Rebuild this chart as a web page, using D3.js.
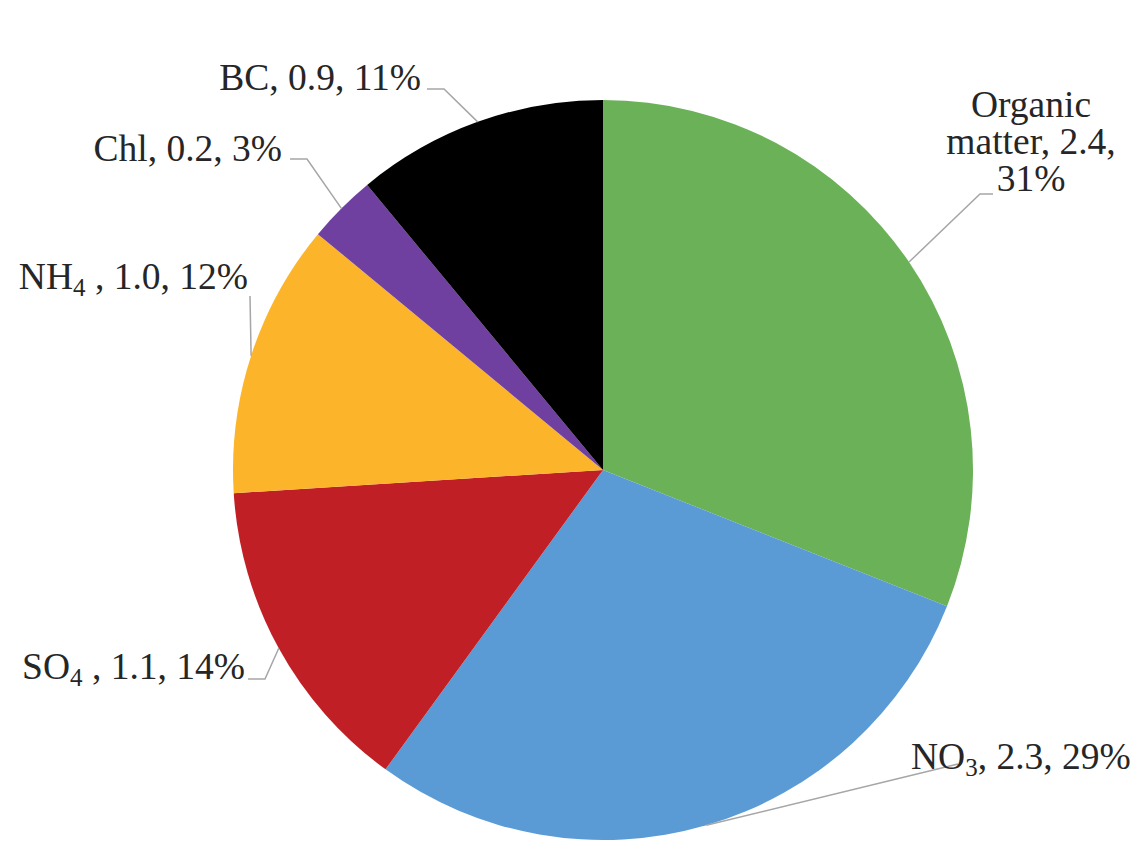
<!DOCTYPE html>
<html>
<head>
<meta charset="utf-8">
<script src="https://cdn.jsdelivr.net/npm/d3@7"></script>
<style>
  html, body { margin: 0; padding: 0; background: #ffffff; }
  svg { display: block; }
  .lbl { font-family: "Liberation Serif", "Times New Roman", serif; font-size: 37.5px; fill: #262626; }
</style>
</head>
<body>
<svg id="chart" width="1145" height="850"></svg>
<script>
// PM composition: species, mass (µg/m³) and share of total
const species  = ["Organic matter", "NO3", "SO4", "NH4", "Chl", "BC"];
const massVals = [2.4, 2.3, 1.1, 1.0, 0.2, 0.9];
const shares   = [31, 29, 14, 12, 3, 11];
const colors   = ["#6ab157", "#5b9bd5", "#c11f26", "#fcb52b", "#7040a0", "#000000"];

const svg = d3.select("#chart");
const cx = 603, cy = 470, R = 370;

const g = svg.append("g").attr("transform", `translate(${cx},${cy})`);

const pie = d3.pie().sort(null).value(d => d.share);
const arc = d3.arc().innerRadius(0).outerRadius(R);

const rows = species.map((s, i) => ({ name: s, mass: massVals[i], share: shares[i], color: colors[i] }));
const arcs = pie(rows);

g.selectAll("path.slice")
  .data(arcs)
  .join("path")
  .attr("class", "slice")
  .attr("d", arc)
  .attr("fill", d => d.data.color);

// point on the rim at the middle of a slice (chart coordinates)
function rimPoint(d) {
  const a = (d.startAngle + d.endAngle) / 2;
  return [cx + R * Math.sin(a), cy - R * Math.cos(a)];
}

// label placement: anchor, text position and leader elbow
const layout = {
  "Organic matter": { anchor: "middle", x: 1031, y: 117, lines: true, elbow: [[993, 194], [980, 194]] },
  "NO3": { anchor: "start", x: 911, y: 769, elbow: [[958, 764]] },
  "SO4": { anchor: "end", x: 245, y: 679, elbow: [[248, 679], [265, 679]] },
  "NH4": { anchor: "end", x: 248, y: 289, elbow: [[250, 296]] },
  "Chl": { anchor: "end", x: 282, y: 161, elbow: [[290, 159], [307, 159]] },
  "BC":  { anchor: "end", x: 421, y: 90,  elbow: [[427, 89], [444, 89]] }
};

// leader lines
arcs.forEach(d => {
  const L = layout[d.data.name];
  const pts = L.elbow.concat([rimPoint(d)]);
  svg.append("path")
    .attr("d", d3.line()(pts))
    .attr("fill", "none")
    .attr("stroke", "#a6a6a6")
    .attr("stroke-width", 1.5);
});

// split a chemical name into plain and subscript runs (digits are subscripts)
function runs(name) {
  return name.match(/\d+|\D+/g).map(t => ({ t, sub: /\d/.test(t) }));
}

arcs.forEach(d => {
  const L = layout[d.data.name];
  const tail = `, ${d3.format(".1f")(d.data.mass)}, ${d.data.share}%`;
  const t = svg.append("text")
    .attr("class", "lbl")
    .attr("text-anchor", L.anchor)
    .attr("x", L.x)
    .attr("y", L.y);
  if (L.lines) {
    const words = d.data.name.split(" ");
    const lineTexts = [words[0], `${words[1]}, ${d3.format(".1f")(d.data.mass)},`, `${d.data.share}%`];
    lineTexts.forEach((s, i) => {
      t.append("tspan").attr("x", L.x).attr("dy", i === 0 ? 0 : 37).text(s);
    });
  } else {
    const parts = runs(d.data.name);
    let subbed = false;
    parts.forEach(p => {
      if (p.sub) {
        t.append("tspan").attr("dy", 7).attr("font-size", "25px").text(p.t);
        subbed = true;
      } else {
        t.append("tspan").text(p.t);
      }
    });
    const spacer = (subbed && d.data.name !== "NO3") ? " " : "";
    t.append("tspan").attr("dy", subbed ? -7 : 0).text(spacer + tail);
  }
});
</script>
</body>
</html>
